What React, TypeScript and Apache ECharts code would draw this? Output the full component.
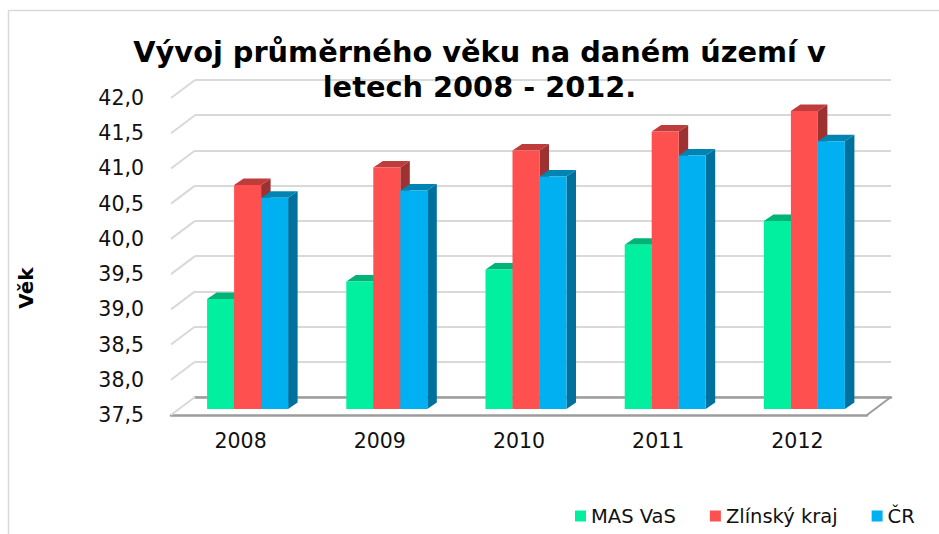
import React, { useEffect, useRef } from "react";
import * as echarts from "echarts";

const years = ["2008", "2009", "2010", "2011", "2012"];
const masVas = [39.06, 39.31, 39.48, 39.83, 40.17];
const zlinskyKraj = [40.68, 40.93, 41.17, 41.44, 41.73];
const cr = [40.5, 40.6, 40.8, 41.1, 41.3];
const ticks = [37.5, 38, 38.5, 39, 39.5, 40, 40.5, 41, 41.5, 42];
const titleText = "Vývoj průměrného věku na daném území v\nletech 2008 - 2012.";

const FONT = "'DejaVu Sans', sans-serif";
const DX = 24;
const DY = 18;

const frontGrid = { left: 171, top: 98, width: 696, height: 317 };
const backGrid = { left: 195, top: 80, width: 696, height: 317 };
const barGrid = { left: 178, top: 92, width: 696, height: 317 };

const barSeries = (
  name: string,
  values: number[],
  slot: number,
  front: string,
  top: string,
  side: string
) => ({
  type: "custom",
  name,
  xAxisIndex: 2,
  yAxisIndex: 2,
  clip: false,
  z: 3 + slot,
  itemStyle: { color: front },
  encode: { x: 0, y: 1 },
  data: values.map((v, i) => [i, v]),
  renderItem: (_: any, api: any) => {
    const base = api.coord([api.value(0), 37.5]);
    const peak = api.coord([api.value(0), api.value(1)]);
    const band = api.size([1, 0])[0];
    const w = band * 0.194;
    const x0 = base[0] - 1.5 * w + slot * w;
    const x1 = x0 + w;
    const dx = 9.5;
    const dy = 6.5;
    return {
      type: "group",
      children: [
        {
          type: "polygon",
          shape: { points: [[x1, peak[1]], [x1 + dx, peak[1] - dy], [x1 + dx, base[1] - dy], [x1, base[1]]] },
          style: { fill: side },
        },
        {
          type: "polygon",
          shape: { points: [[x0, peak[1]], [x0 + dx, peak[1] - dy], [x1 + dx, peak[1] - dy], [x1, peak[1]]] },
          style: { fill: top },
        },
        {
          type: "rect",
          shape: { x: x0, y: peak[1], width: w, height: base[1] - peak[1] },
          style: { fill: front },
        },
      ],
    };
  },
});

export default function App() {
  const ref = useRef<HTMLDivElement>(null);
  useEffect(() => {
    const chart = echarts.init(ref.current!, undefined, { renderer: "svg" });
    const hiddenY = (grid: number, extra: object = {}) => ({
      type: "value",
      gridIndex: grid,
      min: 37.5,
      max: 42,
      interval: 0.5,
      axisLine: { show: false },
      axisTick: { show: false },
      axisLabel: { show: false },
      splitLine: { show: false },
      ...extra,
    });
    const hiddenX = (grid: number, extra: object = {}) => ({
      type: "category",
      gridIndex: grid,
      data: years,
      axisLine: { show: false },
      axisTick: { show: false },
      axisLabel: { show: false },
      splitLine: { show: false },
      ...extra,
    });
    chart.setOption({
      animation: false,
      backgroundColor: "#ffffff",
      textStyle: { fontFamily: FONT },
      title: {
        text: titleText,
        left: 474.5,
        top: 29,
        textAlign: "center",
        textStyle: { fontFamily: FONT, fontWeight: "bold", fontSize: 28.8, lineHeight: 35, color: "#000000" },
      },
      grid: [frontGrid, backGrid, barGrid],
      xAxis: [
        hiddenX(0, {
          axisLine: { show: true, lineStyle: { color: "#9c9c9c", width: 2.5 } },
          axisLabel: { show: true, color: "#111111", fontSize: 20.5, fontFamily: FONT, margin: 15 },
        }),
        hiddenX(1, { axisLine: { show: true, lineStyle: { color: "#9c9c9c", width: 2.5 } } }),
        hiddenX(2),
      ],
      yAxis: [
        hiddenY(0, {
          axisLabel: {
            show: true,
            color: "#111111",
            fontSize: 20.5,
            fontFamily: FONT,
            margin: 27,
            formatter: (v: number) => v.toFixed(1).replace(".", ","),
          },
        }),
        hiddenY(1, { splitLine: { show: true, lineStyle: { color: "#d9d9d9", width: 2 } } }),
        hiddenY(2),
      ],
      legend: {
        left: 570,
        top: 501,
        icon: "rect",
        itemWidth: 11,
        itemHeight: 11,
        itemGap: 34,
        textStyle: { color: "#111111", fontSize: 19.5, fontFamily: FONT, padding: [0, 0, 0, 0] },
        data: ["MAS VaS", "Zlínský kraj", "ČR"],
      },
      series: [
        {
          type: "custom",
          name: "walls",
          xAxisIndex: 0,
          yAxisIndex: 0,
          clip: false,
          z: 1,
          silent: true,
          encode: { y: 0 },
          data: ticks.map((t) => [t]),
          renderItem: (params: any, api: any) => {
            const p = api.coord([0, api.value(0)]);
            const cs = params.coordSys;
            const isFloor = params.dataIndex === 0;
            const children: any[] = [
              {
                type: "line",
                shape: { x1: cs.x, y1: p[1], x2: cs.x + DX, y2: p[1] - DY },
                style: { stroke: "#d9d9d9", lineWidth: 2 },
              },
            ];
            if (isFloor) {
              children.push({
                type: "line",
                shape: { x1: cs.x + cs.width, y1: p[1], x2: cs.x + cs.width + DX, y2: p[1] - DY },
                style: { stroke: "#9c9c9c", lineWidth: 2 },
              });
            }
            return { type: "group", children };
          },
        },
        barSeries("MAS VaS", masVas, 0, "#00F0A0", "#00B377", "#00A06C"),
        barSeries("Zlínský kraj", zlinskyKraj, 1, "#FF5050", "#BF3C3C", "#9E3232"),
        barSeries("ČR", cr, 2, "#00B0F0", "#0084B4", "#00709C"),
      ],
      graphic: [
        {
          type: "polyline",
          shape: { points: [[8.5, 534], [8.5, 10.5], [939, 10.5]] },
          style: { stroke: "#d9d9d9", lineWidth: 1.5, fill: "none" },
          silent: true,
        },
        {
          type: "text",
          x: 26,
          y: 288,
          rotation: Math.PI / 2,
          style: {
            text: "Věk",
            fontFamily: FONT,
            fontWeight: "bold",
            fontSize: 20,
            fill: "#000000",
            align: "center",
            verticalAlign: "middle",
          },
        },
      ],
    });
    return () => chart.dispose();
  }, []);
  return <div ref={ref} style={{ position: "fixed", left: 0, top: 0, width: 939, height: 534 }} />;
}
